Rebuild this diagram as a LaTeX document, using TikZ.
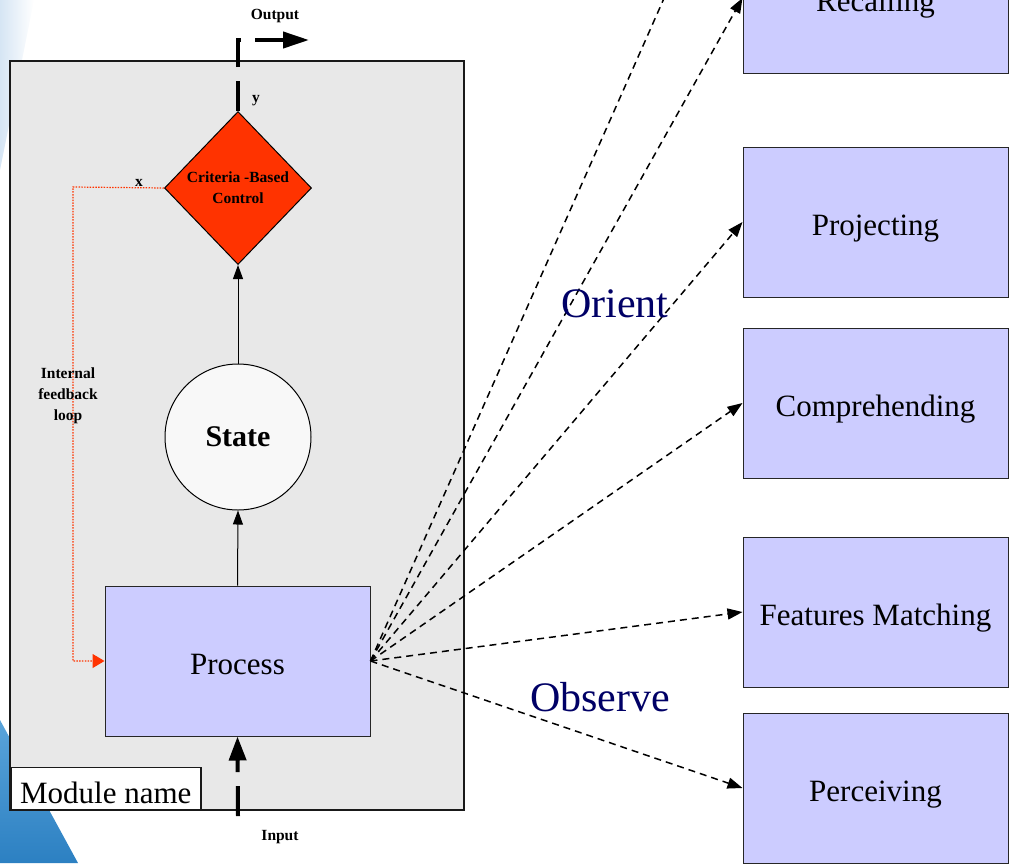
\documentclass[tikz,border=0pt]{standalone}
\usepackage{fontspec}
\setmainfont{Liberation Serif}
\usetikzlibrary{arrows.meta,shapes.geometric}
\definecolor{boxblue}{HTML}{CCCCFF}
\definecolor{ctrlred}{HTML}{FF3300}
\definecolor{modgray}{HTML}{E8E8E8}
\definecolor{statefill}{HTML}{F8F8F8}
\definecolor{phase}{HTML}{000066}
\definecolor{swooshdark}{HTML}{2C80C2}
\definecolor{swooshlight}{HTML}{5AA4DA}
\definecolor{hazeblue}{HTML}{D6E5F4}

\begin{document}
\begin{tikzpicture}[x=1pt,y=-1pt,
  stagebox/.style={draw=black!85, line width=1pt, fill=boxblue,
    minimum width=265pt, minimum height=150pt, inner sep=0pt,
    text height=27pt, text depth=0pt,
    font=\fontsize{31}{36}\selectfont},
  smalllbl/.style={font=\fontsize{15.5}{21}\selectfont\bfseries, inner sep=0pt},
  phaselbl/.style={text=phase, font=\fontsize{42}{48}\selectfont, inner sep=0pt},
  flow/.style={line width=1pt, -{Triangle[length=14pt,width=10pt]}},
  bigflow/.style={line width=4pt, dash pattern=on 30pt off 14pt},
  sense/.style={line width=1.5pt, dash pattern=on 7pt off 5pt,
    -{Triangle[length=15pt,width=11pt]}},
  feedback/.style={draw=ctrlred, line width=1.2pt, dash pattern=on 1.5pt off 1.3pt,
    -{Triangle[length=12pt,width=14pt,fill=ctrlred]}}
]
\useasboundingbox (0,0) rectangle (1009,863);

% slide background accents
\shade[left color=hazeblue, right color=white] (0,0) -- (34,0) -- (0,170) -- cycle;
\shade[top color=swooshlight, bottom color=swooshdark] (0,720) -- (78,863) -- (0,863) -- cycle;

% module frame
\node[draw=black!90, line width=1.5pt, fill=modgray, minimum width=454pt,
  minimum height=749pt, inner sep=0pt] (module) at (237,435.5) {};
\node[draw=black!90, line width=1.5pt, fill=white, anchor=south west,
  minimum width=190pt, minimum height=42pt, inner xsep=0pt, inner ysep=0pt,
  text height=30pt, text depth=0pt,
  font=\fontsize{31}{36}\selectfont] (modname) at (10,810) {Module name};

% inner blocks
\node[stagebox] (process) at (237.5,661) {Process};
\node[circle, draw=black, line width=1pt, fill=statefill, minimum size=146pt,
  inner sep=0pt, font=\fontsize{30}{36}\selectfont\bfseries] (state) at (238,437) {State};
\node[diamond, draw=black, line width=1pt, fill=ctrlred, minimum width=147pt,
  minimum height=153pt, inner sep=0pt, align=center,
  font=\fontsize{15.5}{21}\selectfont\bfseries] (ctrl) at (238,188)
  {Criteria -Based\\Control};

\draw[flow] (process.north) -- (state.south);
\draw[flow] (state.north) -- (ctrl.south);

% external input / output
\coordinate (inp) at (238,816);
\coordinate (outp) at (309,40);
\draw[bigflow, -{Triangle[length=24pt,width=17pt]}] (inp) -- (process.south);
\draw[bigflow, -{Triangle[length=26pt,width=16pt]}] (ctrl.north) |- (outp);
\node[smalllbl] (outlbl) at (275,16) {Output};
\node[smalllbl] (inlbl) at (280,837) {Input};
\node[smalllbl] (ylbl) at (256,101) {y};

% internal feedback loop
\coordinate (fbcorner) at (73,187);
\draw[feedback] (ctrl.west) -- (fbcorner) |- (process.west);
\node[smalllbl] (xlbl) at (139,183) {x};
\node[smalllbl, align=center] (fblbl) at (68,396) {Internal\\feedback\\loop};

% stages
\node[stagebox] (recall) at (875.5,-2) {Recalling};
\node[stagebox] (project) at (875.5,222) {Projecting};
\node[stagebox] (compre) at (875.5,403) {Comprehending};
\node[stagebox] (feat) at (875.5,612) {Features Matching};
\node[stagebox] (perceive) at (875.5,788) {Perceiving};
\coordinate (beyond) at (743,-180);

\draw[sense, -] (process.east) -- (beyond);
\draw[sense] (process.east) -- (recall.west);
\draw[sense] (process.east) -- (project.west);
\draw[sense] (process.east) -- (compre.west);
\draw[sense] (process.east) -- (feat.west);
\draw[sense] (process.east) -- (perceive.west);

\node[phaselbl] (orient) at (615,304) {Orient};
\node[phaselbl] (observe) at (600,697) {Observe};
\end{tikzpicture}
\end{document}
